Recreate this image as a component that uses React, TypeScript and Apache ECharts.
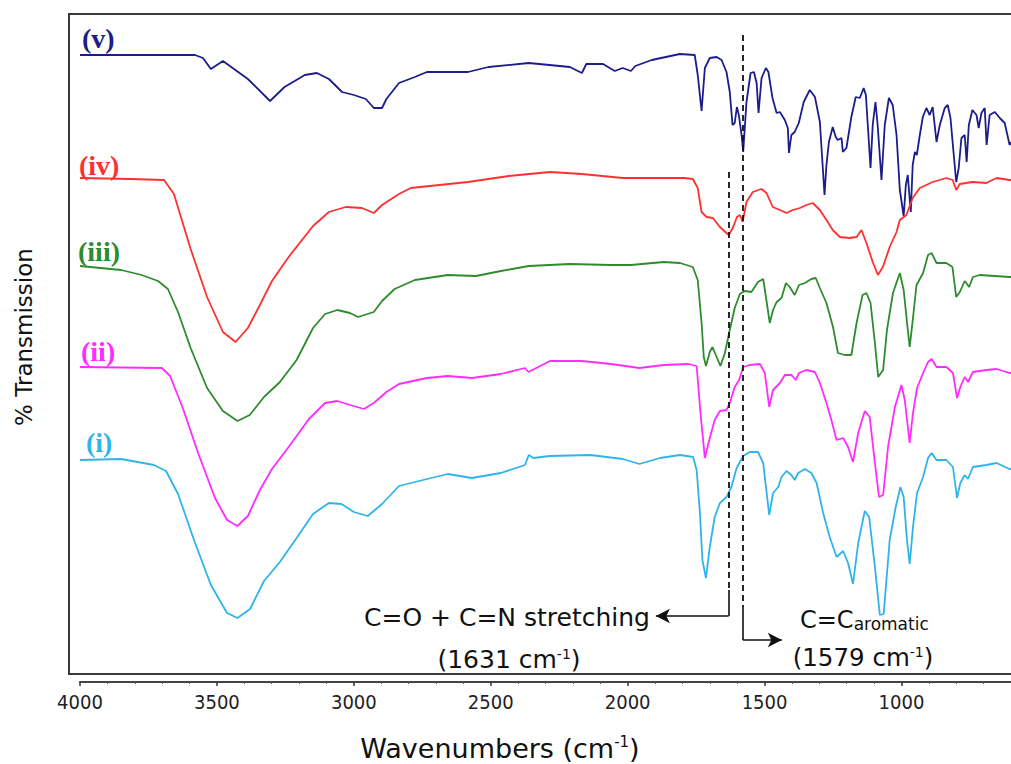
import React, { useEffect, useRef } from "react";
import * as echarts from "echarts";

// FTIR spectra (wavenumber cm-1, offset %T in plot units)
const spectrumV: [number, number][] = [
  [4000, 627], [3580, 627], [3551, 624], [3522, 613], [3478, 621], [3387, 603], [3306, 581], [3253, 595],
  [3179, 607], [3135, 609], [3091, 603], [3043, 590], [3000, 587], [2956, 583], [2927, 574], [2897, 574],
  [2881, 583], [2835, 599], [2777, 605], [2733, 610], [2583, 610], [2508, 615], [2361, 619], [2211, 615],
  [2167, 609], [2151, 618], [2090, 618], [2047, 611], [2018, 614], [1988, 611], [1972, 616], [1912, 622],
  [1809, 628], [1755, 627], [1744, 607], [1730, 571], [1718, 614], [1700, 624], [1675, 625], [1657, 622],
  [1639, 610], [1627, 590], [1617, 557], [1609, 559], [1601, 575], [1594, 567], [1584, 547], [1578, 530],
  [1566, 580], [1551, 609], [1539, 610], [1529, 599], [1522, 569], [1511, 604], [1495, 614], [1486, 610],
  [1471, 584], [1456, 569], [1444, 570], [1426, 562], [1415, 554], [1411, 529], [1402, 547], [1390, 550],
  [1375, 559], [1357, 580], [1335, 592], [1316, 585], [1298, 560], [1288, 517], [1281, 487], [1274, 517],
  [1265, 540], [1251, 555], [1240, 545], [1233, 542], [1219, 544], [1214, 530], [1201, 534], [1183, 565],
  [1167, 585], [1152, 584], [1138, 594], [1130, 587], [1123, 557], [1113, 514], [1105, 557], [1095, 580],
  [1087, 557], [1073, 502], [1061, 557], [1046, 584], [1032, 577], [1018, 547], [1006, 492], [992, 466],
  [984, 497], [977, 507], [966, 470], [959, 517], [951, 530], [944, 527], [933, 547], [922, 565],
  [909, 574], [897, 567], [886, 575], [872, 540], [860, 557], [842, 574], [831, 577], [821, 564],
  [809, 527], [800, 500], [791, 514], [781, 544], [769, 547], [762, 520], [754, 557], [741, 572],
  [726, 567], [718, 554], [708, 569], [696, 574], [689, 537], [678, 567], [659, 570], [641, 564],
  [623, 559], [605, 537], [600, 540],
];

const spectrumIV: [number, number][] = [
  [4000, 504], [3817, 503], [3693, 502], [3657, 488], [3596, 433], [3536, 385], [3478, 350], [3432, 340],
  [3387, 354], [3343, 377], [3299, 401], [3238, 425], [3149, 456], [3091, 470], [3030, 475], [2970, 474],
  [2927, 469], [2897, 477], [2835, 488], [2792, 494], [2583, 500], [2434, 506], [2284, 510], [2167, 508],
  [2018, 504], [1793, 504], [1762, 503], [1744, 494], [1730, 470], [1712, 465], [1689, 464], [1663, 455],
  [1639, 449], [1631, 447], [1616, 454], [1601, 465], [1590, 467], [1580, 460], [1566, 480], [1543, 490],
  [1511, 493], [1493, 489], [1470, 475], [1444, 472], [1420, 469], [1397, 472], [1371, 474], [1347, 477],
  [1324, 479], [1298, 472], [1274, 462], [1251, 452], [1225, 445], [1189, 444], [1164, 445], [1146, 452],
  [1128, 439], [1105, 420], [1086, 407], [1068, 415], [1043, 435], [1018, 450], [1006, 462], [982, 467],
  [959, 484], [933, 494], [886, 500], [836, 504], [813, 502], [800, 492], [787, 498], [740, 500],
  [690, 499], [653, 504], [605, 502], [600, 502],
];

const spectrumIII: [number, number][] = [
  [4000, 416], [3850, 412], [3775, 407], [3715, 401], [3679, 393], [3642, 370], [3596, 334], [3536, 294],
  [3478, 271], [3425, 261], [3380, 267], [3328, 285], [3270, 300], [3209, 322], [3149, 354], [3105, 368],
  [3060, 372], [3014, 369], [2985, 365], [2927, 370], [2897, 381], [2851, 393], [2777, 402], [2657, 407],
  [2554, 406], [2463, 411], [2361, 416], [2211, 418], [2061, 417], [1988, 417], [1868, 420], [1809, 419],
  [1762, 415], [1744, 402], [1730, 359], [1722, 325], [1714, 316], [1700, 330], [1690, 335], [1678, 327],
  [1661, 316], [1645, 329], [1627, 352], [1609, 374], [1590, 388], [1572, 391], [1548, 390], [1524, 400],
  [1505, 403], [1495, 385], [1481, 359], [1469, 372], [1456, 380], [1438, 384], [1422, 399], [1408, 395],
  [1390, 387], [1374, 397], [1353, 399], [1329, 403], [1313, 404], [1298, 394], [1274, 379], [1250, 355],
  [1232, 329], [1207, 327], [1183, 327], [1164, 359], [1142, 387], [1128, 389], [1113, 379], [1097, 339],
  [1085, 305], [1067, 312], [1053, 352], [1031, 389], [1006, 409], [992, 392], [978, 355], [970, 335],
  [960, 359], [945, 397], [921, 409], [903, 427], [890, 429], [872, 419], [836, 419], [814, 415],
  [800, 385], [787, 390], [769, 401], [753, 395], [739, 405], [714, 407], [605, 405], [600, 405],
];

const spectrumII: [number, number][] = [
  [4000, 315], [3701, 314], [3671, 306], [3626, 275], [3566, 227], [3507, 184], [3463, 162], [3425, 156],
  [3387, 166], [3343, 192], [3299, 213], [3238, 235], [3164, 263], [3105, 279], [3060, 281], [3014, 277],
  [2963, 273], [2927, 279], [2881, 290], [2835, 298], [2733, 304], [2657, 306], [2569, 304], [2463, 308],
  [2375, 314], [2362, 310], [2284, 321], [2167, 321], [2061, 318], [1957, 314], [1868, 317], [1778, 318],
  [1748, 316], [1734, 269], [1718, 224], [1700, 244], [1682, 262], [1663, 271], [1639, 272], [1627, 279],
  [1609, 295], [1593, 302], [1578, 315], [1554, 317], [1517, 318], [1499, 309], [1483, 275], [1469, 292],
  [1444, 299], [1426, 307], [1402, 307], [1386, 302], [1374, 309], [1347, 312], [1316, 310], [1298, 299],
  [1274, 279], [1256, 262], [1237, 242], [1213, 244], [1195, 235], [1177, 220], [1158, 249], [1134, 271],
  [1116, 265], [1097, 219], [1082, 185], [1067, 187], [1049, 235], [1024, 275], [1000, 297], [988, 282],
  [970, 239], [958, 269], [943, 294], [921, 309], [903, 320], [890, 323], [872, 315], [836, 315],
  [812, 309], [797, 284], [785, 295], [769, 305], [757, 300], [739, 310], [690, 312], [653, 313],
  [605, 309], [600, 309],
];

const spectrumI: [number, number][] = [
  [4000, 222], [3850, 223], [3730, 217], [3686, 211], [3642, 188], [3581, 140], [3522, 97], [3463, 69],
  [3425, 64], [3379, 73], [3328, 101], [3270, 120], [3209, 144], [3149, 168], [3091, 179], [3045, 178],
  [3000, 170], [2949, 166], [2897, 178], [2835, 196], [2762, 201], [2657, 208], [2569, 204], [2463, 209],
  [2375, 217], [2361, 227], [2344, 224], [2284, 226], [2136, 227], [2018, 223], [1957, 218], [1882, 224],
  [1809, 227], [1761, 225], [1748, 212], [1736, 169], [1727, 122], [1714, 104], [1700, 135], [1682, 165],
  [1663, 179], [1639, 185], [1621, 195], [1602, 214], [1578, 226], [1554, 230], [1524, 230], [1505, 219],
  [1483, 167], [1469, 189], [1450, 195], [1438, 205], [1420, 211], [1402, 207], [1390, 202], [1377, 209],
  [1353, 213], [1329, 209], [1310, 199], [1286, 169], [1262, 145], [1237, 125], [1213, 131], [1195, 119],
  [1177, 98], [1158, 139], [1134, 171], [1118, 165], [1097, 115], [1079, 67], [1065, 68], [1043, 142],
  [1021, 175], [1004, 195], [992, 185], [980, 142], [970, 118], [958, 155], [943, 189], [921, 205],
  [903, 224], [890, 229], [872, 222], [836, 222], [812, 215], [797, 184], [785, 199], [769, 207],
  [757, 203], [739, 215], [690, 217], [653, 219], [605, 213], [600, 213],
];

const seriesNames = ["(v)", "(iv)", "(iii)", "(ii)", "(i)"];
const seriesColors = ["#1c1c8a", "#ff3030", "#2e8b2e", "#ff2bff", "#2fb4ea"];
const majorTicks = [4000, 3500, 3000, 2500, 2000, 1500, 1000];
const minorTicks = [3900, 3800, 3700, 3600, 3400, 3300, 3200, 3100, 2900, 2800, 2700, 2600, 2400, 2300, 2200, 2100, 1900, 1800, 1700, 1600, 1400, 1300, 1200, 1100, 900, 800, 700];
const peak1 = 1631;
const peak2 = 1579;

export default function App() {
  const ref = useRef<HTMLDivElement>(null);
  useEffect(() => {
    if (!ref.current) return;
    const chart = echarts.init(ref.current, null, { renderer: "svg" });
    const data = [spectrumV, spectrumIV, spectrumIII, spectrumII, spectrumI];
    const black = "#111";
    const dashed = { color: black, width: 1.8, type: [6, 4] as any };
    const solid = { color: black, width: 1.6, type: "solid" as any };
    const annFont = "'DejaVu Sans', 'Open Sans', sans-serif";
    const labelPos = [
      [82, 38], [79, 165], [78, 251], [81, 351], [86, 442],
    ];
    chart.setOption({
      animation: false,
      grid: { left: 80, right: 0, top: 14, bottom: 82 },
      xAxis: [
        {
          type: "value",
          min: 600,
          max: 4000,
          inverse: true,
          position: "bottom",
          axisLine: { show: true, lineStyle: { color: "#444", width: 2 } },
          axisTick: { show: true, length: 4, customValues: majorTicks, lineStyle: { color: "#333", width: 1.5 } },
          axisLabel: {
            customValues: majorTicks,
            formatter: (v: number) => String(v),
            margin: 10,
            fontSize: 20,
            color: "#222",
            fontFamily: "'DejaVu Sans Condensed', 'Liberation Sans Narrow', 'Liberation Sans', sans-serif",
          },
          splitLine: { show: false },
        },
        {
          type: "value",
          min: 600,
          max: 4000,
          inverse: true,
          position: "bottom",
          offset: 0,
          axisLine: { show: false },
          axisTick: { show: true, length: 2, customValues: minorTicks, lineStyle: { color: "#555", width: 1 } },
          axisLabel: { show: false, customValues: [] },
          splitLine: { show: false },
        },
      ],
      yAxis: { type: "value", min: 0, max: 668, show: false },
      series: data.map((d, i) => ({
        type: "line",
        name: seriesNames[i],
        data: d,
        showSymbol: false,
        symbol: "none",
        smooth: false,
        lineStyle: { color: seriesColors[i], width: 1.8 },
        itemStyle: { color: seriesColors[i] },
        z: 3,
        ...(i === 0
          ? {
              markLine: {
                silent: true,
                symbol: ["none", "none"],
                label: { show: false },
                animation: false,
                data: [
                  [{ coord: [peak1, 510], lineStyle: dashed }, { coord: [peak1, 92] }],
                  [{ coord: [peak1, 92], lineStyle: solid }, { coord: [peak1, 66] }],
                  [
                    { coord: [peak1, 66], lineStyle: solid, symbol: "none" },
                    { coord: [1897, 66], symbol: "arrow", symbolSize: [11, 14] },
                  ],
                  [{ coord: [peak2, 647], lineStyle: dashed }, { coord: [peak2, 75] }],
                  [{ coord: [peak2, 75], lineStyle: solid }, { coord: [peak2, 42] }],
                  [
                    { coord: [peak2, 42], lineStyle: solid, symbol: "none" },
                    { coord: [1437, 42], symbol: "arrow", symbolSize: [11, 14] },
                  ],
                ],
              },
            }
          : {}),
      })),
      graphic: [
        {
          type: "rect",
          shape: { x: 69, y: 14, width: 1000, height: 660 },
          style: { fill: "none", stroke: "#3a3a3a", lineWidth: 2 },
          silent: true,
          z: 1,
        },
        ...seriesNames.map((n, i) => ({
          type: "text",
          x: labelPos[i][0],
          y: labelPos[i][1],
          style: {
            text: n,
            fill: seriesColors[i],
            fontSize: 28,
            fontWeight: "bold",
            fontFamily: "'Liberation Serif', 'DejaVu Serif', serif",
            align: "left",
            verticalAlign: "middle",
          },
          z: 10,
        })),
        {
          type: "text",
          x: 24,
          y: 337,
          rotation: Math.PI / 2,
          style: {
            text: "% Transmission",
            fill: "#111",
            fontSize: 23,
            fontFamily: annFont,
            align: "center",
            verticalAlign: "middle",
          },
        },
        {
          type: "text",
          x: 500,
          y: 748,
          style: {
            text: "Wavenumbers (cm{sup|-1})",
            fill: "#111",
            fontSize: 27,
            fontFamily: annFont,
            align: "center",
            verticalAlign: "middle",
            rich: { sup: { fontSize: 15, fontFamily: annFont, verticalAlign: "top", fill: "#111" } },
          },
        },
        {
          type: "text",
          x: 650,
          y: 617,
          style: {
            text: "C=O + C=N stretching",
            fill: "#111",
            fontSize: 25,
            fontFamily: annFont,
            align: "right",
            verticalAlign: "middle",
          },
        },
        {
          type: "text",
          x: 509,
          y: 659,
          style: {
            text: "(1631 cm{sup|-1})",
            fill: "#111",
            fontSize: 25,
            fontFamily: annFont,
            align: "center",
            verticalAlign: "middle",
            rich: { sup: { fontSize: 14, fontFamily: annFont, verticalAlign: "top", fill: "#111" } },
          },
        },
        {
          type: "text",
          x: 800,
          y: 620,
          style: {
            text: "C=C{sub|aromatic}",
            fill: "#111",
            fontSize: 24,
            fontFamily: annFont,
            align: "left",
            verticalAlign: "middle",
            rich: { sub: { fontSize: 17, fontFamily: annFont, verticalAlign: "bottom", fill: "#111" } },
          },
        },
        {
          type: "text",
          x: 863,
          y: 657,
          style: {
            text: "(1579 cm{sup|-1})",
            fill: "#111",
            fontSize: 24.5,
            fontFamily: annFont,
            align: "center",
            verticalAlign: "middle",
            rich: { sup: { fontSize: 14, fontFamily: annFont, verticalAlign: "top", fill: "#111" } },
          },
        },
      ],
    });
    return () => chart.dispose();
  }, []);
  return (
    <div
      ref={ref}
      style={{ position: "fixed", left: 0, top: 0, width: 1011, height: 764, background: "#fff" }}
    />
  );
}
